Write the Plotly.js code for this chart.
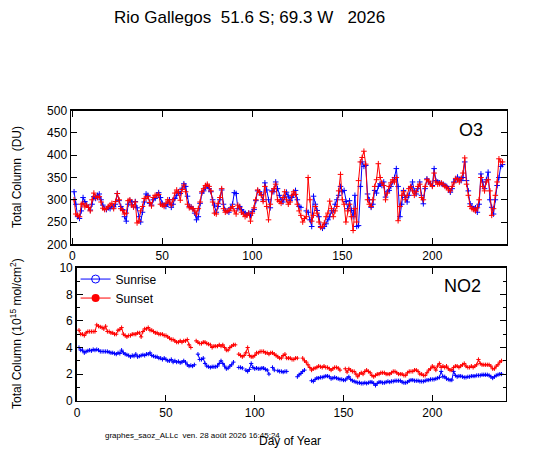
<!DOCTYPE html>
<html><head><meta charset="utf-8">
<script src="https://cdn.plot.ly/plotly-3.0.1.min.js"></script>
<style>html,body{margin:0;padding:0;background:#fff;}#chart{width:540px;height:453px;}</style>
</head><body><div id="chart"></div>
<script>
// Day of year 1..239
const days = Array.from({length: 239}, (_, i) => i + 1);

const o3Sunrise = [
318,290,262,258,275,305,296,288,283,277,
290,307,303,310,313,300,288,280,278,282,
280,285,284,290,314,298,285,278,262,252,
290,298,295,284,296,282,262,250,272,295,
313,310,292,288,300,303,310,316,305,292,
288,285,290,300,283,290,303,310,318,314,
326,336,330,308,285,284,280,270,255,262,
292,315,320,328,332,325,318,300,288,272,
285,300,322,290,276,275,272,282,290,316,
314,280,285,278,273,270,266,270,265,274,
278,298,320,318,312,300,338,322,300,282,
320,318,340,325,310,300,295,305,317,308,
298,305,312,321,300,285,283,null,null,275,
272,255,240,308,290,276,262,240,236,240,
246,255,262,275,276,290,300,310,330,318,
321,296,280,298,276,262,310,240,242,330,
385,375,377,313,300,283,290,321,315,330,
336,332,340,306,318,321,330,340,350,370,
330,262,290,321,305,295,310,328,340,320,
313,325,340,310,291,325,347,340,336,332,
370,343,340,338,336,335,332,330,325,317,
325,340,345,351,345,343,350,385,343,320,
291,285,280,282,272,290,358,340,325,345,
362,300,283,268,300,332,350,375,379];

const o3Sunset = [
300,268,265,262,290,292,284,288,283,275,
300,315,307,305,307,295,281,278,280,285,
288,292,280,296,314,300,280,276,268,270,
298,300,288,284,295,248,252,275,285,303,
303,307,294,286,305,310,310,312,290,288,
285,292,300,295,288,300,315,322,316,299,
323,333,318,290,282,283,280,275,268,280,
295,318,325,332,335,330,320,295,270,268,
292,305,325,280,272,274,276,280,285,275,
268,288,282,272,268,262,265,270,252,270,
282,300,322,316,310,296,330,285,255,290,
318,325,335,300,296,292,305,318,300,290,
295,310,318,312,290,275,265,250,258,262,
350,300,252,265,285,270,250,238,240,248,
262,270,297,280,262,275,285,320,357,300,
290,250,275,290,262,231,280,250,343,385,
395,409,380,300,290,285,300,330,345,381,
350,338,332,300,315,330,338,345,340,350,
253,285,310,318,300,310,325,330,320,310,
318,330,335,305,300,330,345,342,335,330,
360,340,335,336,338,334,330,328,322,320,
330,338,348,345,340,348,360,394,335,310,
285,280,278,275,282,300,350,330,320,340,
345,320,265,280,310,340,392,385,385];

const no2Sunset = [
5.3,5.0,5.0,4.9,5.1,5.2,5.2,5.2,5.2,5.2,
5.7,5.6,5.55,5.5,5.4,5.6,5.2,5.2,5.1,5.1,
5.0,5.0,5.3,5.35,5.5,5.0,4.9,4.8,4.9,4.9,
5.0,5.0,5.0,5.1,5.1,4.8,5.2,5.4,5.4,5.5,
5.3,5.3,5.2,5.1,5.1,5.0,5.0,5.0,4.9,4.9,
4.8,4.7,4.6,4.6,4.5,4.4,4.4,4.5,4.4,4.5,
4.5,4.6,4.2,4.0,null,null,4.5,4.4,4.3,4.3,
4.4,4.4,4.3,4.25,4.2,4.0,4.1,4.1,4.1,4.2,
4.1,4.2,4.0,3.8,3.8,4.0,4.1,4.2,4.2,null,
3.5,3.4,3.3,3.4,3.6,4.0,3.4,3.3,3.3,3.4,
3.6,3.6,3.7,3.7,3.7,3.6,3.6,3.5,3.6,3.6,
3.5,3.4,3.3,3.2,3.2,3.4,3.5,3.2,3.2,3.2,
3.1,3.1,3.2,3.2,null,null,3.2,3.0,2.9,2.7,
2.5,2.3,2.4,2.45,2.5,2.6,2.55,2.5,2.6,2.5,
2.5,2.4,2.3,2.4,2.5,2.5,2.45,2.3,null,null,
2.4,2.15,2.4,2.3,2.2,2.2,2.0,1.8,2.0,2.1,
2.0,2.2,2.3,2.2,2.1,1.9,1.8,1.9,2.0,2.0,
2.1,2.1,2.1,2.0,2.0,2.0,2.1,2.2,2.2,2.1,
2.0,2.0,2.0,1.9,1.9,2.1,2.2,2.2,2.2,2.3,
2.3,2.2,2.0,2.0,1.9,1.9,2.1,2.3,2.4,2.6,
2.5,2.3,2.6,2.8,2.5,2.6,2.5,2.6,2.4,2.3,
2.3,2.5,2.6,2.6,2.5,2.6,2.7,2.8,2.6,2.5,
2.5,2.6,2.5,2.6,2.7,3.1,2.8,2.7,2.7,2.7,
2.7,2.7,2.6,2.4,2.4,2.6,2.7,2.9,3.0];

const no2Sunrise = [
4.0,3.8,3.8,3.6,3.7,3.75,3.8,3.75,3.85,3.8,
3.85,3.8,3.7,3.7,3.7,3.7,3.7,3.65,3.6,3.6,
3.55,3.5,3.6,3.55,3.8,3.6,3.5,3.45,3.4,3.3,
3.4,3.35,3.5,3.3,3.35,3.4,3.45,3.4,3.5,3.5,
3.6,3.4,3.35,3.3,3.3,3.2,3.2,3.1,3.2,3.1,
3.0,3.0,3.1,2.9,3.0,2.9,2.95,2.85,2.9,3.0,
2.9,2.7,2.6,2.65,2.6,2.7,null,3.5,3.1,3.1,
3.2,2.8,2.6,2.55,2.5,2.55,2.55,2.55,2.6,2.8,
3.0,2.8,2.6,2.4,2.45,2.6,2.7,2.9,null,null,
2.5,2.5,2.45,null,2.3,2.2,2.35,2.8,2.5,2.4,
2.45,2.4,2.4,2.45,2.45,2.35,2.3,2.0,null,2.5,
2.3,null,2.25,2.2,2.2,2.15,2.2,2.2,null,null,
null,null,null,1.8,1.95,2.05,2.2,2.3,null,null,
null,1.5,1.45,1.6,1.7,1.7,1.75,1.75,1.8,1.85,
1.85,1.8,1.65,1.7,1.75,1.7,1.65,1.6,1.6,1.55,
1.55,1.7,1.8,1.6,1.5,1.45,1.4,1.35,1.35,1.3,
1.3,1.35,1.3,1.35,1.4,1.4,1.3,1.15,1.3,1.4,
1.4,1.35,1.35,1.4,1.45,1.4,1.45,1.45,1.5,1.5,
1.5,1.5,1.4,1.35,1.35,1.4,1.5,1.55,1.55,1.5,
1.5,1.5,1.45,1.45,1.45,1.5,1.55,1.55,1.6,1.6,
1.6,1.65,1.7,1.75,2.2,1.8,1.8,1.65,1.6,1.55,
1.55,2.2,1.9,1.8,1.85,1.85,1.8,1.75,1.75,1.8,
1.8,1.85,1.85,1.85,1.9,1.9,1.9,1.95,1.95,1.95,
1.95,1.9,1.8,1.7,1.8,1.9,1.95,2.0,2.0];

const seriesNames = ['Sunrise', 'Sunset'];
const BLUE = '#0000ff', RED = '#ff0000';
const FONT = 'Liberation Sans, Arial, sans-serif';

function tr(y, color, xa, ya, msize) {
  return {x: days, y: y, xaxis: xa, yaxis: ya, type: 'scatter', mode: 'lines+markers',
    showlegend: false, connectgaps: false,
    line: {color: color, width: 1},
    marker: {symbol: 'cross-thin', size: msize, line: {color: color, width: 1}, color: color}};
}

const data = [
  tr(o3Sunrise, BLUE, 'x', 'y', 4),
  tr(o3Sunset, RED, 'x', 'y', 4),
  tr(no2Sunrise, BLUE, 'x2', 'y2', 3),
  tr(no2Sunset, RED, 'x2', 'y2', 3),
  {x: [null], y: [null], xaxis: 'x2', yaxis: 'y2', name: seriesNames[0], mode: 'lines+markers',
   line: {color: BLUE, width: 1}, marker: {symbol: 'circle-open', size: 8, color: BLUE, line: {color: BLUE, width: 1}}},
  {x: [null], y: [null], xaxis: 'x2', yaxis: 'y2', name: seriesNames[1], mode: 'lines+markers',
   line: {color: RED, width: 1}, marker: {symbol: 'circle', size: 8, color: RED}}
];

const axBase = {showline: true, linecolor: '#000', linewidth: 1.5, mirror: 'ticks',
  ticks: 'inside', ticklen: 6, tickwidth: 1, tickcolor: '#000', showgrid: false, zeroline: false,
  tickfont: {family: FONT, size: 12, color: '#000'}};

const layout = {
  width: 540, height: 453,
  margin: {l: 0, r: 0, t: 0, b: 0},
  paper_bgcolor: '#fff', plot_bgcolor: '#fff',
  font: {family: FONT, color: '#000'},
  showlegend: true,
  legend: {x: 0.14, y: 0.416, xanchor: 'left', yanchor: 'top', bgcolor: 'rgba(0,0,0,0)',
    font: {family: FONT, size: 12}, tracegroupgap: 0, itemwidth: 30},
  xaxis: Object.assign({}, axBase, {domain: [0.1315, 0.9383], range: [-0.7, 241.3], dtick: 50, anchor: 'y'}),
  yaxis: Object.assign({}, axBase, {domain: [0.4607, 0.7556], range: [200, 500], dtick: 50, anchor: 'x'}),
  xaxis2: Object.assign({}, axBase, {domain: [0.142, 0.937], range: [-0.3, 241.5], dtick: 50, anchor: 'y2'}),
  yaxis2: Object.assign({}, axBase, {domain: [0.1155, 0.409], range: [0, 10], dtick: 2, anchor: 'x2',
    minor: {dtick: 1, ticks: 'inside', ticklen: 3, tickcolor: '#000'}}),
  annotations: [
    {text: 'Rio Gallegos\u00a0\u00a051.6 S; 69.3 W\u00a0\u00a0\u00a02026', xref: 'paper', yref: 'paper',
     x: 249/540, y: 1 - 18/453, xanchor: 'center', yanchor: 'middle', showarrow: false,
     font: {family: FONT, size: 17}},
    {text: 'O3', xref: 'paper', yref: 'paper', x: 471/540, y: 1 - 130/453, xanchor: 'center', yanchor: 'middle',
     showarrow: false, font: {family: FONT, size: 18}},
    {text: 'NO2', xref: 'paper', yref: 'paper', x: 462/540, y: 1 - 286/453, xanchor: 'center', yanchor: 'middle',
     showarrow: false, font: {family: FONT, size: 18}},
    {text: 'Total Column\u00a0\u00a0(DU)', xref: 'paper', yref: 'paper', x: 17/540, y: 1 - 177/453,
     xanchor: 'center', yanchor: 'middle', textangle: -90, showarrow: false, font: {family: FONT, size: 12}},
    {text: 'Total Column (10<sup>15</sup> mol/cm<sup>2</sup>)', xref: 'paper', yref: 'paper', x: 16/540, y: 1 - 334/453,
     xanchor: 'center', yanchor: 'middle', textangle: -90, showarrow: false, font: {family: FONT, size: 12}},
    {text: 'Day of Year', xref: 'paper', yref: 'paper', x: 290/540, y: 1 - 441/453,
     xanchor: 'center', yanchor: 'middle', showarrow: false, font: {family: FONT, size: 12}},
    {text: 'graphes_saoz_ALLc\u00a0\u00a0ven. 28 août 2026 16:45:24', xref: 'paper', yref: 'paper', x: 103/540, y: 1 - 435/453,
     xanchor: 'left', yanchor: 'middle', showarrow: false, font: {family: FONT, size: 8}}
  ]
};

Plotly.newPlot('chart', data, layout, {staticPlot: true, displayModeBar: false});
</script>
</body></html>
